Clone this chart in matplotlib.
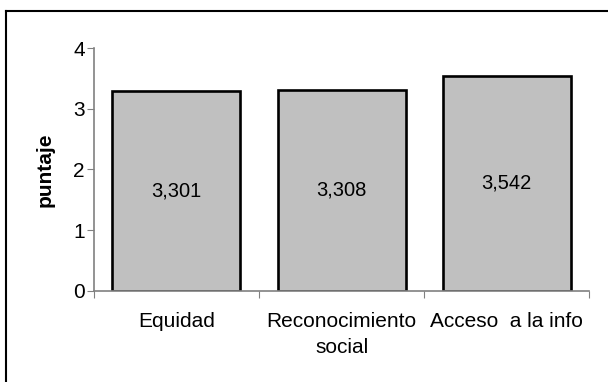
import matplotlib
matplotlib.use("Agg")
import matplotlib.pyplot as plt
from matplotlib.lines import Line2D

plt.rcParams['font.family'] = ['Liberation Sans', 'DejaVu Sans']

categorias = ["Equidad", "Reconocimiento\nsocial", "Acceso  a la info"]
puntajes = [3.301, 3.308, 3.542]
etiquetas = ["3,301", "3,308", "3,542"]

fig = plt.figure(figsize=(6.08, 3.82), dpi=100)
ax = fig.add_axes([0.1543, 0.239, 0.8151, 0.6346])

pos = list(range(len(categorias)))
barras = ax.bar(pos, puntajes, width=0.775, color="#c0c0c0",
                edgecolor="black", linewidth=1.9)

# etiquetas de valor en el centro de cada barra
for b, txt in zip(barras, etiquetas):
    ax.text(b.get_x() + b.get_width() / 2, b.get_height() / 2, txt,
            ha="center", va="center", fontsize=14.5)

ax.set_xlim(-0.5, len(categorias) - 0.5)
ax.set_ylim(0, 4)
ax.set_yticks([0, 1, 2, 3, 4])

# marcas entre categorías, nombres en el centro
ax.set_xticks([p - 0.5 for p in pos] + [len(pos) - 0.5])
ax.set_xticklabels([])
ax.set_xticks(pos, minor=True)
ax.set_xticklabels(categorias, minor=True, fontsize=15, linespacing=1.5)
ax.tick_params(axis="x", which="minor", length=0, pad=15)
ax.tick_params(axis="x", which="major", length=5, color="#808080")
ax.tick_params(axis="y", length=5, color="#808080", labelsize=15, pad=1.5)

ax.set_ylabel("puntaje", fontsize=15, fontweight="bold", labelpad=13)

for s in ["top", "right"]:
    ax.spines[s].set_visible(False)
for s in ["left", "bottom"]:
    ax.spines[s].set_color("#808080")
    ax.spines[s].set_linewidth(1.2)

# marco exterior del gráfico
fig.add_artist(Line2D([5.5 / 608, 1.0], [1 - 11 / 382, 1 - 11 / 382],
                      transform=fig.transFigure, color="black", lw=1.5))
fig.add_artist(Line2D([5.5 / 608, 5.5 / 608], [0.0, 1 - 11 / 382],
                      transform=fig.transFigure, color="black", lw=1.5))

fig.savefig("out.png", dpi=100)
